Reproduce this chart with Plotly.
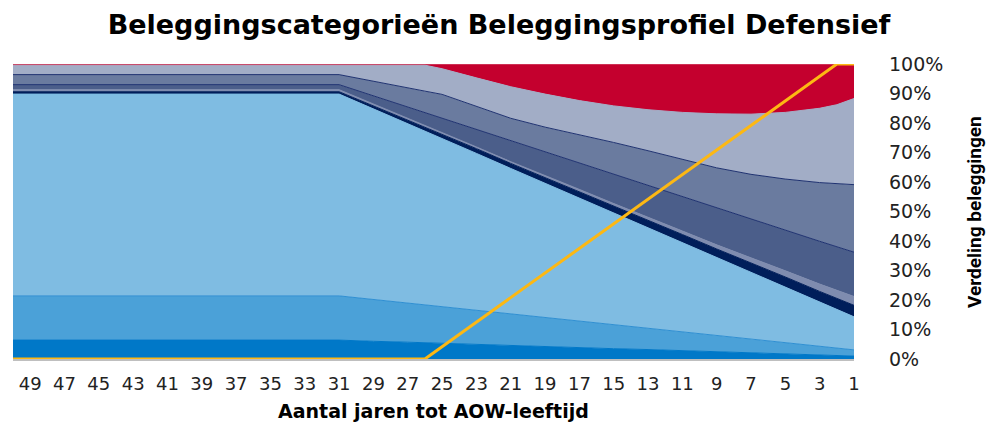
import plotly.graph_objects as go

# Years until state pension age (AOW) - sampled categories
years = [50, 31, 29, 27, 26, 25, 23, 21, 19, 17, 15, 13, 11, 9, 7, 5, 3, 2, 1]

# Allocation per investment category (% of portfolio), bottom to top of the stack
cat1 = [6.4, 6.4, 6.0, 5.7, 5.5, 5.3, 5.0, 4.6, 4.2, 3.9, 3.5, 3.2, 2.8, 2.4, 2.1, 1.7, 1.4, 1.2, 1.0]
cat2 = [15.0, 15.0, 14.1, 13.3, 12.9, 12.4, 11.5, 10.7, 9.9, 9.0, 8.1, 7.2, 6.4, 5.6, 4.7, 3.8, 2.9, 2.5, 2.1]
cat3 = [68.4, 68.4, 64.6, 60.8, 58.8, 57.0, 53.2, 49.3, 45.5, 41.7, 37.9, 34.1, 30.3, 26.4, 22.6, 18.9, 15.0, 13.1, 11.2]
cat4 = [0.8, 0.8, 1.0, 1.2, 1.3, 1.4, 1.6, 1.7, 1.9, 2.1, 2.3, 2.5, 2.7, 2.9, 3.1, 3.4, 3.6, 3.7, 3.9]
cat5 = [0.7, 0.7, 0.6, 0.6, 0.6, 0.6, 0.6, 0.6, 0.7, 0.8, 0.9, 1.0, 1.2, 1.4, 1.7, 2.1, 2.5, 2.7, 3.0]
cat6 = [1.7, 1.7, 2.8, 3.8, 4.4, 4.9, 5.9, 7.1, 8.0, 8.9, 9.9, 10.8, 11.7, 12.6, 13.3, 13.8, 14.5, 14.8, 15.0]
cat7 = [3.4, 3.4, 5.0, 6.5, 7.3, 8.1, 7.8, 7.6, 8.4, 9.5, 10.8, 11.8, 12.7, 13.5, 15.1, 17.3, 19.9, 21.4, 22.9]
cat8 = [3.2, 3.2, 5.5, 7.7, 8.8, 8.7, 9.7, 10.7, 11.2, 11.7, 12.4, 13.9, 15.8, 18.3, 20.4, 22.6, 25.2, 26.8, 29.2]
cat9 = [0.4, 0.4, 0.4, 0.4, 0.4, 1.6, 4.7, 7.7, 10.2, 12.4, 14.2, 15.5, 16.4, 16.9, 17.0, 16.4, 15.0, 13.8, 11.7]

# Yellow line series
line_years = [50, 26, 2, 1]
line_vals = [0, 0, 100, 100]

tick_years = list(range(49, 0, -2))
y_ticks = list(range(0, 101, 10))

series = [
    ("Categorie 1", cat1, "#0078C8", "#0078C8"),
    ("Categorie 2", cat2, "#4BA1D8", "#2F8FD2"),
    ("Categorie 3", cat3, "#7FBCE2", "#7FBCE2"),
    ("Categorie 4", cat4, "#001E5A", "#001E5A"),
    ("Categorie 5", cat5, "#7F8CAF", "#7F8CAF"),
    ("Categorie 6", cat6, "#4B5E8A", "#1E3170"),
    ("Categorie 7", cat7, "#6A7B9F", "#1E3170"),
    ("Categorie 8", cat8, "#A2ADC6", "#A2ADC6"),
    ("Categorie 9", cat9, "#C4002E", "#D8607A"),
]

fig = go.Figure()
for name, vals, fillc, linec in series:
    fig.add_trace(go.Scatter(
        x=years, y=vals, name=name, mode="lines",
        stackgroup="one", fillcolor=fillc,
        line=dict(color=linec, width=1),
        hoverinfo="skip",
    ))

fig.add_trace(go.Scatter(
    x=line_years, y=line_vals, name="Lijn", mode="lines",
    line=dict(color="#FDB813", width=3), cliponaxis=False,
))

W, H = 984, 416  # page body has an 8px margin
PL, PT, PW, PH = 5, 55.5, 841, 296
fig.update_layout(
    width=W, height=H,
    margin=dict(l=PL, r=W - PL - PW, t=PT, b=H - PT - PH),
    plot_bgcolor="white", paper_bgcolor="white",
    showlegend=False,
    title=dict(
        text="<b>Beleggingscategorieën Beleggingsprofiel Defensief</b>",
        x=(499 - 8) / W, xref="container", xanchor="center",
        y=1 - 17 / H, yref="container", yanchor="middle",
        font=dict(family="DejaVu Sans", size=27, color="#000000"),
    ),
    xaxis=dict(
        range=[50, 1], tickmode="array", tickvals=tick_years,
        ticktext=[str(t) for t in tick_years],
        showgrid=False, zeroline=False,
        showline=True, linecolor="#BFBFBF", linewidth=2,
        ticks="", ticklabelstandoff=7,
        tickfont=dict(family="DejaVu Sans", size=18, color="#222222"),
    ),
    yaxis=dict(
        range=[0, 100], side="right", tickmode="array", tickvals=y_ticks,
        ticktext=[f"{v}%" for v in y_ticks],
        showgrid=False, zeroline=False, showline=False, ticks="",
        ticklabelstandoff=34,
        tickfont=dict(family="DejaVu Sans", size=19, color="#222222"),
    ),
    annotations=[
        dict(text="<b>Aantal jaren tot AOW-leeftijd</b>", xref="paper", yref="paper",
             x=0.5, y=(PT + PH - 404) / PH, xanchor="center", yanchor="middle",
             showarrow=False, font=dict(family="DejaVu Sans", size=19, color="#000000")),
        dict(text="<b>Verdeling beleggingen</b>", xref="paper", yref="paper",
             x=(975 - 8 - PL) / PW, y=(PT + PH - 204) / PH,
             xanchor="center", yanchor="middle",
             textangle=-90, showarrow=False,
             font=dict(family="Roboto", size=19, color="#000000")),
    ],
)

fig.write_html("out.html")
